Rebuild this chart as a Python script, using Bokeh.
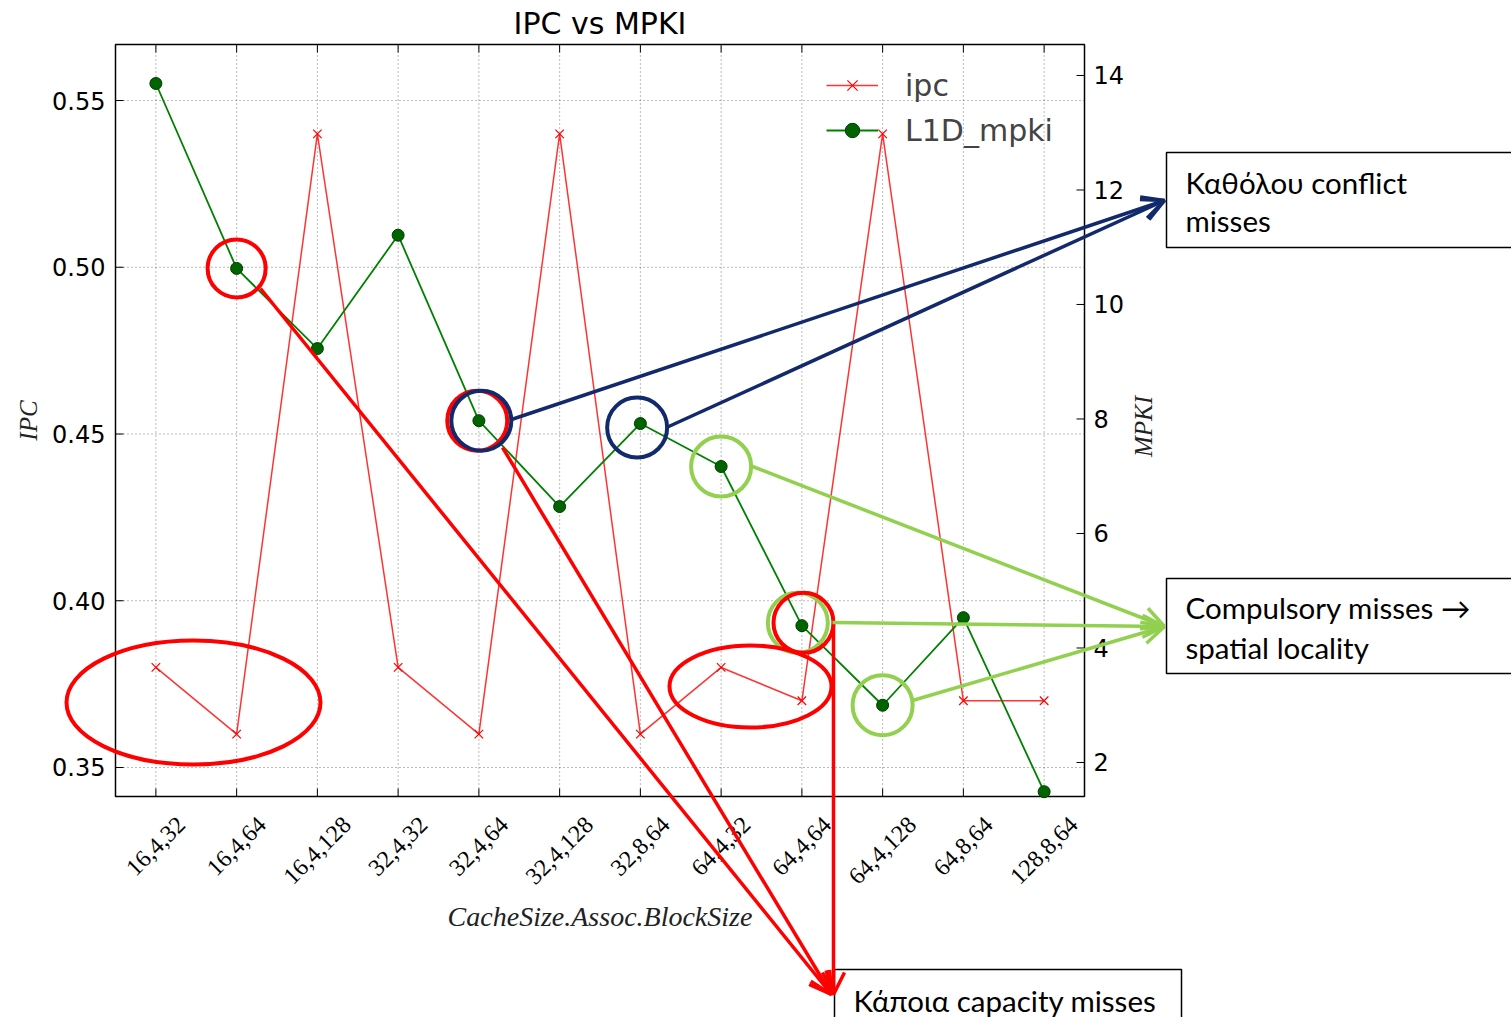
import math
from bokeh.plotting import figure
from bokeh.models import Range1d, Legend, LegendItem, Arrow, OpenHead
from bokeh.core.properties import value
from bokeh.embed import file_html
from bokeh.resources import INLINE

# cache configurations: size, associativity, block size
configs = ["16,4,32", "16,4,64", "16,4,128", "32,4,32", "32,4,64", "32,4,128",
           "32,8,64", "64,4,32", "64,4,64", "64,4,128", "64,8,64", "128,8,64"]
ipc = [0.38, 0.36, 0.54, 0.38, 0.36, 0.54, 0.36, 0.38, 0.37, 0.54, 0.37, 0.37]
l1d_mpki = [13.86, 10.63, 9.23, 11.21, 7.97, 6.47, 7.92, 7.17, 4.39, 3.00, 4.53, 1.49]
ipc_ticks = [0.35, 0.40, 0.45, 0.50, 0.55]
mpki_ticks = [2, 4, 6, 8, 10, 12, 14]

xpos = list(range(len(configs)))

# page and axes box geometry (pixels)
W, H = 1511, 1017
BX0, BY0, BX1, BY1 = 115, 44, 1084, 796
X_LO, X_HI = -0.5, len(configs) - 0.5
IPC_LO, IPC_HI = 0.3413, 0.5668
MPKI_LO, MPKI_HI = 1.406, 14.541

RED = "#ff0000"
NAVY = "#12296b"
LIME = "#92d050"
SANS = value("DejaVu Sans")
SERIF = value("Liberation Serif")
NOTE = value("Lato")


def spread(v_a, p_a, v_b, p_b, q):
    """value at pixel q on a linear scale through (p_a, v_a) and (p_b, v_b)"""
    return v_a + (q - p_a) * (v_b - v_a) / (p_b - p_a)


# the frame covers the whole page; the axes box lives inside it
p = figure(width=W, height=H, output_backend="svg", toolbar_location=None,
           x_range=Range1d(0, W), y_range=Range1d(H, 0),
           x_axis_location=None, y_axis_location=None, min_border=0)
p.outline_line_color = None
p.grid.visible = False
p.background_fill_color = "white"

p.extra_x_ranges = {"cfg": Range1d(spread(X_LO, BX0, X_HI, BX1, 0),
                                   spread(X_LO, BX0, X_HI, BX1, W))}
p.extra_y_ranges = {
    "ipc": Range1d(spread(IPC_LO, BY1, IPC_HI, BY0, H), spread(IPC_LO, BY1, IPC_HI, BY0, 0)),
    "mpki": Range1d(spread(MPKI_LO, BY1, MPKI_HI, BY0, H), spread(MPKI_LO, BY1, MPKI_HI, BY0, 0)),
}
CI = dict(x_range_name="cfg", y_range_name="ipc")
CM = dict(x_range_name="cfg", y_range_name="mpki")

# dotted grid
p.segment(x0=xpos, x1=xpos, y0=[IPC_LO] * len(xpos), y1=[IPC_HI] * len(xpos), **CI,
          line_color="black", line_alpha=0.55, line_dash="1 3", line_width=1)
p.segment(x0=[X_LO] * len(ipc_ticks), x1=[X_HI] * len(ipc_ticks), y0=ipc_ticks, y1=ipc_ticks,
          **CI, line_color="black", line_alpha=0.55, line_dash="1 3", line_width=1)

# axes box
p.quad(left=[X_LO], right=[X_HI], bottom=[IPC_LO], top=[IPC_HI], **CI,
       fill_alpha=0, line_color="black", line_width=1.5)

# inward tick marks
p.ray(x=[X_LO] * len(ipc_ticks), y=ipc_ticks, length=8, length_units="screen", angle=0,
      **CI, line_color="black", line_width=1)
p.ray(x=[X_HI] * len(mpki_ticks), y=mpki_ticks, length=8, length_units="screen",
      angle=math.pi, **CM, line_color="black", line_width=1)
p.ray(x=xpos, y=[IPC_LO] * len(xpos), length=8, length_units="screen", angle=math.pi / 2,
      **CI, line_color="black", line_width=1)
p.ray(x=xpos, y=[IPC_HI] * len(xpos), length=8, length_units="screen", angle=-math.pi / 2,
      **CI, line_color="black", line_width=1)

# tick labels
p.text(x=[X_LO] * len(ipc_ticks), y=ipc_ticks, text=[f"{t:.2f}" for t in ipc_ticks], **CI,
       x_offset=-10, text_align="right", text_baseline="middle",
       text_font=SANS, text_font_size="24px", text_color="black")
p.text(x=[X_HI] * len(mpki_ticks), y=mpki_ticks, text=[str(t) for t in mpki_ticks], **CM,
       x_offset=9, text_align="left", text_baseline="middle",
       text_font=SANS, text_font_size="24px", text_color="black")

# rotated configuration labels, centred under their ticks
FS = 24
def label_drop(s):
    digits = sum(ch.isdigit() for ch in s)
    commas = s.count(",")
    length = FS * (0.5 * digits + 0.25 * commas)
    return 17 + (length + 21) / (2 * math.sqrt(2))

p.text(x=xpos, y=[IPC_LO] * len(xpos), text=configs, **CI,
       y_offset=[label_drop(c) for c in configs], angle=math.pi / 4,
       text_align="center", text_baseline="middle",
       text_font=SERIF, text_font_size=f"{FS}px", text_color="black")

# titles
p.text(x=[(BX0 + BX1) / 2], y=[23], text=["IPC vs MPKI"], text_align="center",
       text_baseline="middle", text_font=SANS, text_font_size="30px", text_color="black")
p.text(x=[(BX0 + BX1) / 2], y=[916], text=["CacheSize.Assoc.BlockSize"], text_align="center",
       text_baseline="middle", text_font=SERIF, text_font_style="italic",
       text_font_size="28px", text_color="#222222")
p.text(x=[28], y=[(BY0 + BY1) / 2], text=["IPC"], angle=math.pi / 2, text_align="center",
       text_baseline="middle", text_font=SERIF, text_font_style="italic",
       text_font_size="25px", text_color="#222222")
p.text(x=[1143], y=[426], text=["MPKI"], angle=math.pi / 2, text_align="center",
       text_baseline="middle", text_font=SERIF, text_font_style="italic",
       text_font_size="25px", text_color="#222222")

# data series
ipc_line = p.line(xpos, ipc, **CI, line_color=RED, line_width=1.5, line_alpha=0.8)
ipc_pts = p.scatter(xpos, ipc, **CI, marker="x", size=12, line_color=RED, line_width=1.2)
m_line = p.line(xpos, l1d_mpki, **CM, line_color="#008000", line_width=1.8)
m_pts = p.scatter(xpos, l1d_mpki, **CM, marker="circle", size=12,
                  fill_color="#006400", line_color="#003a00", line_width=1)

legend = Legend(items=[LegendItem(label="ipc", renderers=[ipc_line, ipc_pts]),
                       LegendItem(label="L1D_mpki", renderers=[m_line, m_pts])],
                location=(826, H - 148), padding=0, margin=0, spacing=9,
                glyph_width=52, glyph_height=36, label_height=36, label_standoff=27,
                label_text_font="DejaVu Sans", label_text_font_size="30px",
                border_line_color=None, background_fill_alpha=0)
p.add_layout(legend)

# highlight rings around individual MPKI points
def ring(cfg, color, dx=0.0, dy=0.0, size=60):
    i = configs.index(cfg)
    p.scatter([xpos[i] + dx], [l1d_mpki[i] + dy], **CM, marker="circle",
              size=size, fill_alpha=0, line_color=color, line_width=4)

ring("16,4,64", RED, size=58)
ring("32,4,64", RED, dx=-0.02)
ring("32,4,64", NAVY, dx=0.03)
ring("32,8,64", NAVY, dx=-0.04, dy=-0.07)
ring("64,4,32", LIME)
ring("64,4,64", LIME, dx=-0.05, dy=0.05)
ring("64,4,64", RED, dx=0.02, dy=0.05)
ring("64,4,128", LIME)

# ellipses around the low-IPC groups
p.ellipse(x=[193, 750], y=[702, 686], width=[254, 162], height=[124, 82],
          width_units="screen", height_units="screen",
          fill_alpha=0, line_color=RED, line_width=4)

# callout boxes
p.quad(left=[1166, 1166, 834], right=[1530, 1530, 1181], top=[152, 578, 969],
       bottom=[247, 673, 1040], fill_color="white", line_color="black", line_width=1.5)
p.text(x=[1185, 1185, 1185, 1185, 853], y=[182, 220, 607, 647, 1000],
       text=["Καθόλου conflict", "misses", "Compulsory misses \u2192", "spatial locality",
             "Κάποια capacity misses"],
       text_align="left", text_baseline="middle", text_font=NOTE,
       text_font_size="29.5px", text_color="black")

# arrows
def arrow(x0, y0, x1, y1, color):
    p.add_layout(Arrow(x_start=x0, y_start=y0, x_end=x1, y_end=y1,
                       line_color=color, line_width=3.5,
                       end=OpenHead(size=22, line_color=color, line_width=3.5)))

arrow(260, 288, 831, 994, RED)
arrow(502, 447, 831, 994, RED)
arrow(833, 622, 833, 994, RED)
arrow(511, 419, 1164, 200, NAVY)
arrow(666, 427, 1164, 200, NAVY)
arrow(752, 466, 1164, 626, LIME)
arrow(832, 622, 1164, 626, LIME)
arrow(912, 700, 1164, 626, LIME)

open("out.html", "w").write(file_html(p, INLINE))
